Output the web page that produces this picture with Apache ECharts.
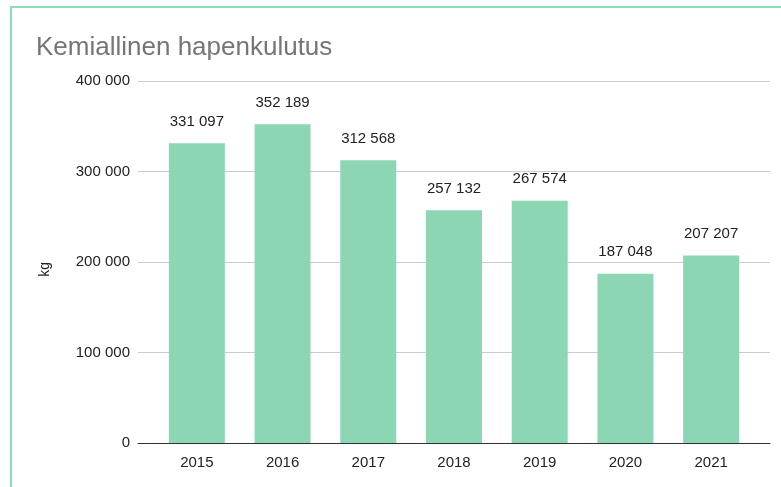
<!DOCTYPE html>
<html>
<head>
<meta charset="utf-8">
<script src="https://cdn.jsdelivr.net/npm/echarts@6/dist/echarts.min.js"></script>
<style>
  html, body { margin: 0; padding: 0; background: #fff; }
  #chart { width: 781px; height: 487px; }
</style>
</head>
<body>
<div id="chart"></div>
<script>
// data
var years = ['2015', '2016', '2017', '2018', '2019', '2020', '2021'];
var values = [331097, 352189, 312568, 257132, 267574, 187048, 207207];
var yTicks = [0, 100000, 200000, 300000, 400000];

function fmt(v) {
    return String(v).replace(/\B(?=(\d{3})+(?!\d))/g, ' ');
}

var myChart = echarts.init(document.getElementById('chart'));
var option = {
    animation: false,
    textStyle: { fontFamily: 'Arial, "Liberation Sans", sans-serif' },
    title: {
        text: 'Kemiallinen hapenkulutus',
        left: 31,
        top: 30,
        textStyle: { color: '#757575', fontSize: 26, fontWeight: 'normal' }
    },
    graphic: [{
        type: 'rect',
        shape: { x: 11, y: 7, width: 800, height: 520 },
        style: { fill: 'none', stroke: '#8fdcb8', lineWidth: 2 },
        silent: true
    }, {
        type: 'text',
        left: 38,
        top: 262,
        rotation: Math.PI / 2,
        style: { text: 'kg', fill: '#222', fontSize: 14 }
    }],
    grid: [
        // taustaviivat ja akseliviiva
        { left: 138, right: 11, top: 81, bottom: 44 },
        // pylväät
        { left: 154, right: 27, top: 81, bottom: 44 }
    ],
    xAxis: [{
        gridIndex: 0,
        type: 'category',
        data: [''],
        axisLine: { lineStyle: { color: '#333', width: 1 } },
        axisTick: { show: false },
        axisLabel: { show: false }
    }, {
        gridIndex: 1,
        type: 'category',
        data: years,
        axisLine: { show: false },
        axisTick: { show: false },
        axisLabel: { color: '#222', fontSize: 15, margin: 12 }
    }],
    yAxis: [{
        gridIndex: 0,
        type: 'value',
        min: yTicks[0],
        max: yTicks[yTicks.length - 1],
        interval: 100000,
        axisLine: { show: false },
        axisTick: { show: false },
        axisLabel: { color: '#222', fontSize: 15, margin: 8, formatter: fmt },
        splitLine: { lineStyle: { color: '#cccccc' } }
    }, {
        gridIndex: 1,
        type: 'value',
        min: yTicks[0],
        max: yTicks[yTicks.length - 1],
        interval: 100000,
        axisLine: { show: false },
        axisTick: { show: false },
        axisLabel: { show: false },
        splitLine: { show: false }
    }],
    series: [{
        type: 'bar',
        xAxisIndex: 1,
        yAxisIndex: 1,
        data: values,
        barWidth: 56,
        itemStyle: { color: '#8dd6b3' },
        label: {
            show: true,
            position: 'top',
            distance: 14,
            color: '#222',
            fontSize: 15,
            formatter: function (p) { return fmt(p.value); }
        }
    }]
};
myChart.setOption(option);
</script>
</body>
</html>
